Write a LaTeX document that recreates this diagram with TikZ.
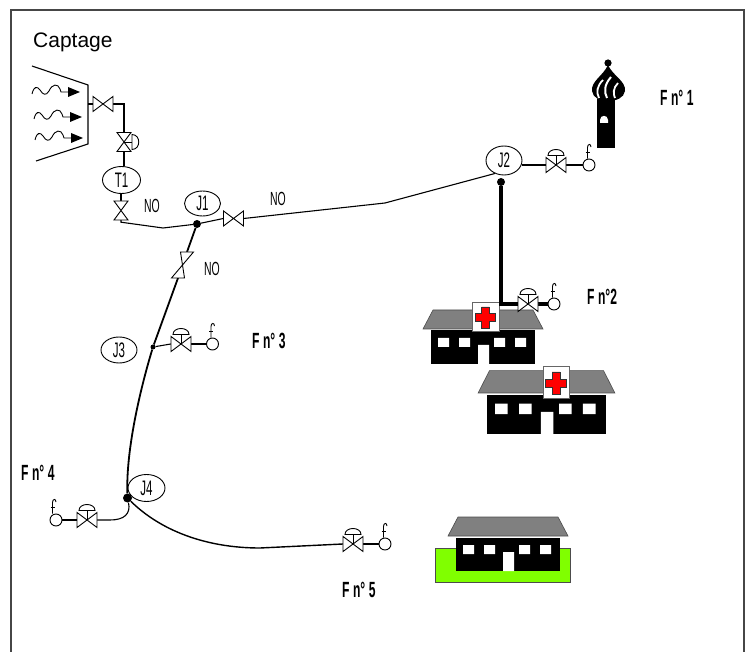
\documentclass[tikz,border=0pt]{standalone}
\usepackage{fontspec}
\setmainfont{Liberation Sans}
\newfontfamily\narrowfont[FakeStretch=0.55]{Liberation Sans}
\usetikzlibrary{shapes.geometric}

\definecolor{roofgray}{RGB}{128,128,128}
\definecolor{framegray}{RGB}{70,70,70}
\definecolor{crossred}{RGB}{255,0,0}
\definecolor{lawn}{RGB}{128,255,0}

\begin{document}
\begin{tikzpicture}[x=1pt,y=-1pt,
  pipe/.style={line width=1.1pt},
  mainpipe/.style={line width=1.8pt},
  thickpipe/.style={line width=3.3pt},
  symline/.style={line width=0.9pt},
  junction/.style={ellipse, draw, line width=0.9pt, inner sep=0pt,
    minimum width=36pt, minimum height=26pt,
    font=\narrowfont\fontsize{21}{21}\selectfont},
  jdot/.style={circle, fill, inner sep=0pt, minimum size=#1},
  hslot/.style={inner sep=0pt, minimum width=20pt, minimum height=15pt},
  vslot/.style={inner sep=0pt, minimum width=14pt, minimum height=19pt},
  outlet/.style={circle, draw, line width=0.9pt, fill=white, inner sep=0pt, minimum size=12pt},
  tag/.style={anchor=base west, inner sep=0pt, font=\narrowfont\bfseries\fontsize{22}{22}\selectfont},
  notag/.style={anchor=base west, inner sep=0pt, font=\narrowfont\fontsize{19}{19}\selectfont},
  % horizontal gate valve
  hgate/.pic={\draw[symline, fill=white] (-10,-7.5) -- (10,7.5) -- (10,-7.5) -- (-10,7.5) -- cycle;},
  % horizontal control valve with dome actuator
  ctrlvalve/.pic={
    \draw[symline, fill=white] (-10,-7.5) -- (10,7.5) -- (10,-7.5) -- (-10,7.5) -- cycle;
    \draw[symline] (0,0) -- (0,-9.5);
    \draw[symline, fill=white] (-8,-9.5) .. controls (-8,-17.5) and (8,-17.5) .. (8,-9.5) -- cycle;},
  % vertical gate valve
  vgate/.pic={\draw[symline, fill=white] (-7,-9.5) -- (7,9.5) -- (-7,9.5) -- (7,-9.5) -- cycle;},
  % vertical valve with side actuator
  vgateside/.pic={
    \draw[symline, fill=white] (-7,-9.5) -- (7,9.5) -- (-7,9.5) -- (7,-9.5) -- cycle;
    \draw[symline] (0,0) -- (8,0);
    \draw[symline, fill=white] (8,-7.5) .. controls (17,-7.5) and (17,7.5) .. (8,7.5) -- cycle;},
  % tap mark above an outlet
  fmark/.pic={
    \draw[symline] (0,0) -- (0,-11) .. controls (0,-15) and (3.5,-15) .. (3.5,-11.5);
    \draw[symline] (-2,-6.5) -- (2,-6.5);},
  % wavy inflow arrow
  inflow/.pic={
    \draw[line width=0.9pt] (0,3) .. controls (2,-5) and (5,-5) .. (8,-1)
      .. controls (11,4) and (14,5) .. (17,0) .. controls (20,-7) and (26,-8) .. (28,-2)
      -- (29,1) -- (37,1);
    \fill (36,-4) -- (48,1) -- (36,6) -- cycle;},
  % building with roof, windows and door
  house/.pic={
    \fill[black] (-52,1.5) rectangle (52,35);
    \filldraw[fill=roofgray, draw=black!70, line width=0.6pt]
      (-60,0) -- (-50,-19) -- (50,-19) -- (60,0) -- cycle;
    \fill[white] (-45,9) rectangle (-34,18) (-24,9) rectangle (-13,18)
      (11,9) rectangle (22,18) (32,9) rectangle (43,18)
      (-5,16) rectangle (6,35);},
  % red cross sign
  redcross/.pic={
    \filldraw[fill=crossred, draw=black!80, line width=0.5pt]
      (-3.8,-10.5) -- (3.8,-10.5) -- (3.8,-3.8) -- (10,-3.8) -- (10,3.8) -- (3.8,3.8)
      -- (3.8,10.5) -- (-3.8,10.5) -- (-3.8,3.8) -- (-10,3.8) -- (-10,-3.8) -- (-3.8,-3.8) -- cycle;}
]
\useasboundingbox (0,0) rectangle (745,652);

% frame
\draw[framegray, line width=1.3pt] (11,660) -- (11,10) -- (744,10) -- (744,660);

% ---------- intake ----------
\node[anchor=base west, inner sep=0pt, font=\fontsize{21}{21}\selectfont] (captage) at (33,48) {Captage};
\draw[pipe] (32,66) -- (88,85) -- (88,144) -- (36,161);
\pic at (32,91) {inflow};
\pic at (34,116) {inflow};
\pic at (35,137) {inflow};
\coordinate (intake) at (88,104);

% ---------- buildings ----------
\pic at (483,329) {house};
\filldraw[fill=white, draw=black!60, line width=0.7pt] (472,302) rectangle (499,331);
\pic at (485.5,317.5) {redcross};

\pic[xscale=1.14, yscale=1.18] at (546.5,393) {house};
\filldraw[fill=white, draw=black!60, line width=0.7pt] (543,366) rectangle (569,398);
\pic[scale=1.05] at (556,383) {redcross};

\filldraw[fill=lawn, draw=black!70, line width=0.7pt] (435,548) rectangle (570,582);
\pic at (508,536) {house};

% tower with onion dome
\fill (597,99) rectangle (615,148);
\fill[white] (600,123) -- (600,120) .. controls (600,114.5) and (608,114.5) .. (608,120) -- (608,123) -- cycle;
\fill (608,65) .. controls (603,76) and (591,81) .. (592,91)
  .. controls (593,98) and (600,101) .. (608,101)
  .. controls (616,101) and (624,98) .. (625,91)
  .. controls (626,81) and (613,76) .. (608,65) -- cycle;
\fill (608,63) circle[radius=3.6];
\draw[white, line width=1.8pt] (603,80) .. controls (597,86) and (596,92) .. (599,98);
\draw[white, line width=2pt] (611,77) .. controls (604,85) and (604,92) .. (607,98);
\draw[white, line width=1.8pt] (618,83) .. controls (613,88) and (613,94) .. (615,98);

% ---------- nodes ----------
\node[hslot] (v1) at (103,104) {};
\node[vslot] (v2) at (124,142) {};
\node[junction, minimum width=38pt, minimum height=27pt] (T1) at (121.5,180) {T1};
\node[vslot] (v3) at (121,210.5) {};
\node[junction, minimum height=25pt] (J1) at (202.5,203.5) {J1};
\node[jdot=8pt] (d1) at (197,224) {};
\node[hslot] (v4) at (233.5,218.5) {};
\coordinate (v5a) at (187,252);
\coordinate (v5b) at (178,278);
\node[junction, minimum height=29pt] (J2) at (504,160.5) {J2};
\node[jdot=8pt] (d2) at (501,182) {};
\node[hslot] (v9) at (556,165) {};
\node[outlet] (f1) at (589,165) {};
\node[hslot] (v10) at (528,304) {};
\node[outlet] (f2) at (554,304) {};
\node[junction] (J3) at (119,350) {J3};
\node[jdot=5pt] (d3) at (153,347) {};
\node[hslot] (v6) at (181,344) {};
\node[outlet] (f3) at (212.5,344) {};
\node[junction, minimum width=37pt, minimum height=27pt] (J4) at (146.5,488) {J4};
\node[jdot=9pt] (d4) at (127.5,498) {};
\node[hslot] (v7) at (87,520) {};
\node[outlet] (f4) at (56,520) {};
\node[hslot] (v8) at (353,544) {};
\node[outlet] (f5) at (385,544) {};

% ---------- pipes ----------
\draw[pipe] (intake) -- (v1.west);
\draw[pipe] (v1.east) -- (v1.east -| v2.north) -- (v2.north);
\draw[pipe] (v2.south) -- (v2.south |- T1.north);
\draw[pipe] (v3.north |- T1.south) -- (v3.north);
\draw[pipe] (v3.south) -- ++(0,2) -- (163,228) -- (d1);
\draw[pipe] (d1) -- (v4.west);
\draw[pipe] (v4.east) -- (385,203) -- (J2.235);
\draw[mainpipe] (d1) -- (v5a);
\draw[mainpipe] (v5b) -- (d3) .. controls (140,390) and (126,450) .. (d4);
\draw[pipe] (d3) -- (v6.west);
\draw[pipe] (v6.east) -- (f3.west);
\draw[pipe] (d4) .. controls (131,514) and (124,520) .. (110,520) -- (v7.east);
\draw[pipe] (v7.west) -- (f4.east);
\draw[line width=1.4pt] (d4) .. controls (160,530) and (205,548) .. (260,548) -- (v8.west);
\draw[pipe] (v8.east) -- (f5.west);
\draw[pipe] (J2.east |- v9.west) -- (v9.west);
\draw[pipe] (v9.east) -- (f1.west);
\draw[thickpipe] (d2) -- (d2 |- v10.west) -- (v10.west);
\draw[thickpipe] (v10.east) -- (f2.west);

% ---------- valves ----------
\pic at (v1) {hgate};
\pic at (v2) {vgateside};
\pic at (v3) {vgate};
\pic at (v4) {hgate};
\draw[symline, fill=white] ([xshift=-6.5pt]v5a) -- ([xshift=6.5pt]v5b) -- ([xshift=-6.5pt]v5b) -- ([xshift=6.5pt]v5a) -- cycle;
\pic at (v6) {ctrlvalve};
\pic at (v7) {ctrlvalve};
\pic at (v8) {ctrlvalve};
\pic at (v9) {ctrlvalve};
\pic at (v10) {ctrlvalve};

% outlet marks
\pic at ([xshift=-1.5pt]f1.north) {fmark};
\pic at ([xshift=-1.5pt]f2.north) {fmark};
\pic at ([xshift=-1.5pt]f3.north) {fmark};
\pic at ([xshift=-3.5pt]f4.north) {fmark};
\pic at ([xshift=-1.5pt]f5.north) {fmark};

% ---------- labels ----------
\node[notag] (no1) at (144,213) {NO};
\node[notag] (no2) at (270,206) {NO};
\node[notag] (no3) at (204,276) {NO};
\node[tag] (fn1) at (660,106) {F\kern3.5pt n°\kern3.5pt 1};
\node[tag] (fn2) at (587,305) {F\kern3.5pt n°2};
\node[tag] (fn3) at (252,349) {F\kern3.5pt n°\kern3.5pt 3};
\node[tag] (fn4) at (21,480) {F\kern3.5pt n°\kern3.5pt 4};
\node[tag] (fn5) at (342,597) {F\kern3.5pt n°\kern3.5pt 5};
\end{tikzpicture}
\end{document}
